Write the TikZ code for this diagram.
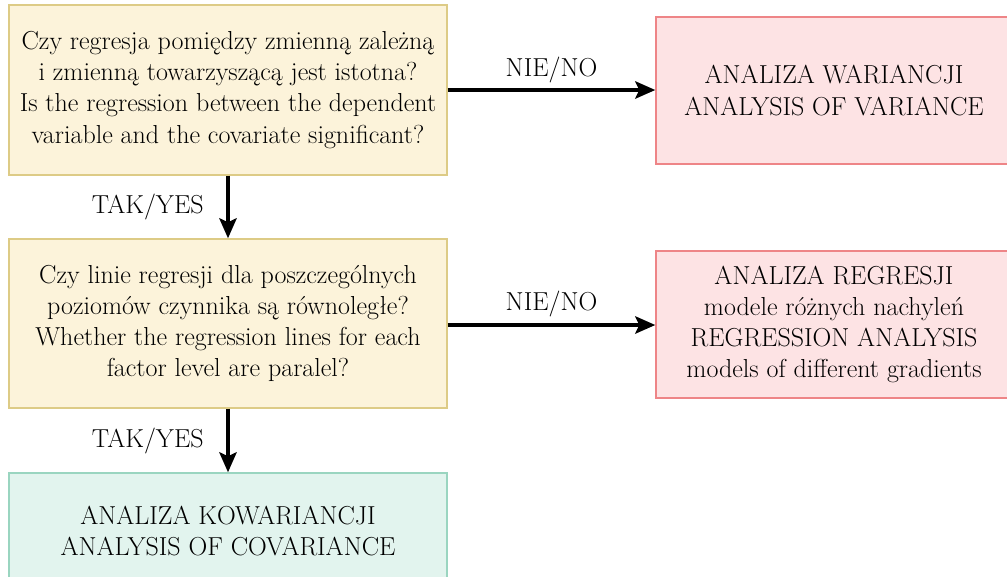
\documentclass[tikz,border=0pt]{standalone}
\usetikzlibrary{arrows.meta,shadows}
\definecolor{qfill}{HTML}{FCF3DA}
\definecolor{qdraw}{HTML}{DDCB86}
\definecolor{rfill}{HTML}{FDE3E4}
\definecolor{rdraw}{HTML}{EE8587}
\definecolor{gfill}{HTML}{E2F4EE}
\definecolor{gdraw}{HTML}{9AD5C0}
\tikzset{
  box/.style={rectangle, line width=1.1pt, align=center, inner sep=0pt,
    font=\fontsize{19.5}{23.3}\selectfont,
    drop shadow={shadow xshift=1pt, shadow yshift=-1pt, opacity=0.2}},
  question/.style={box, fill=qfill, draw=qdraw},
  result/.style={box, fill=rfill, draw=rdraw},
  final/.style={box, fill=gfill, draw=gdraw},
  flow/.style={line width=2.6pt, -{Stealth[length=15pt,width=13pt,inset=3pt]}},
  lbl/.style={font=\fontsize{19.5}{22}\selectfont, inner sep=0pt}
}
\begin{document}
\begin{tikzpicture}[x=0.75pt,y=-0.75pt]
\useasboundingbox (0,0) rectangle (1007,576);
\node[question, minimum width=438*0.75pt, minimum height=170*0.75pt] (q1) at (228,90)
  {Czy regresja pomiędzy zmienną zależną\\ i zmienną towarzyszącą jest istotna?\\
   Is the regression between the dependent\\ variable and the covariate significant?};
\node[question, minimum width=438*0.75pt, minimum height=169*0.75pt] (q2) at (228,323.5)
  {Czy linie regresji dla poszczególnych\\ poziomów czynnika są równoległe?\\
   Whether the regression lines for each\\ factor level are paralel?};
\node[final, minimum width=438*0.75pt, minimum height=116*0.75pt] (ank) at (228,531)
  {ANALIZA KOWARIANCJI\\ ANALYSIS OF COVARIANCE};
\node[result, minimum width=356*0.75pt, minimum height=147*0.75pt] (anw) at (834,90.5)
  {ANALIZA WARIANCJI\\ ANALYSIS OF VARIANCE};
\node[result, minimum width=356*0.75pt, minimum height=147*0.75pt] (anr) at (834,324.5)
  {ANALIZA REGRESJI\\ modele różnych nachyleń\\ REGRESSION ANALYSIS\\ models of different gradients};
\draw[flow] (q1.east |- 0,90) -- (anw.west |- 0,90) node[lbl, midway, yshift=15pt] {NIE/NO};
\draw[flow] (q2.east |- 0,325) -- (anr.west |- 0,325) node[lbl, midway, yshift=16pt] {NIE/NO};
\draw[flow] (q1.south) -- (q2.north) node[lbl, midway, anchor=east, xshift=-17pt] {TAK/YES};
\draw[flow] (q2.south) -- (ank.north) node[lbl, midway, anchor=east, xshift=-17pt] {TAK/YES};
\end{tikzpicture}
\end{document}
